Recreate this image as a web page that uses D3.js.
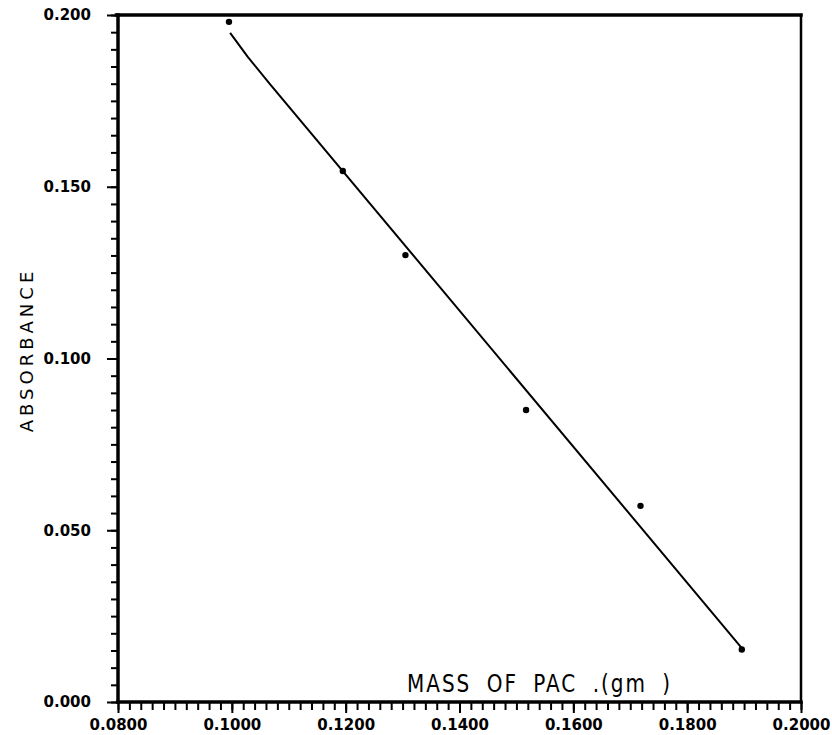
<!DOCTYPE html>
<html>
<head>
<meta charset="utf-8">
<script src="https://cdn.jsdelivr.net/npm/d3@7"></script>
<style>
  body { margin: 0; background: #fff; }
  svg text { fill: #000; }
</style>
</head>
<body>
<script>
// Global variable
const w = 832;
const h = 735;

// measured points (mass of PAC in gm, absorbance)
const mass = [0.0995, 0.1195, 0.1305, 0.1517, 0.1718, 0.1896];
const absorbance = [0.198, 0.1546, 0.1301, 0.0850, 0.0571, 0.0153];

// hand drawn fit line
const fitMass = [0.0997, 0.1028, 0.1067, 0.1896];
const fitAbs  = [0.1948, 0.1878, 0.1799, 0.0157];

// ticks
const xMajor = [0.08, 0.10, 0.12, 0.14, 0.16, 0.18, 0.20];
const yMajor = [0.000, 0.050, 0.100, 0.150, 0.200];
const xMinor = d3.range(0, 61).map(i => 0.08 + i * 0.002);
const yMinor = d3.range(0, 41).map(i => i * 0.005);

const xTitle = "MASS OF PAC .(gm )";
const yTitle = "ABSORBANCE";

//Create SVG element
let svg = d3.select("body")
            .append("svg")
                .attr("width", w)
                .attr("height", h);

let x = d3.scaleLinear()
        .domain([0.08, 0.20])
        .range([118, 801]);

let y = d3.scaleLinear()
        .domain([0, 0.20])
        .range([702, 15]);

// minor ticks
svg.append("g")
    .attr("class", "x minor")
    .attr("transform", "translate(0," + y(0) + ")")
    .call(d3.axisBottom(x).tickValues(xMinor).tickSize(8).tickFormat(""));

svg.append("g")
    .attr("class", "y minor")
    .attr("transform", "translate(" + x(0.08) + ",0)")
    .call(d3.axisLeft(y).tickValues(yMinor).tickSize(7).tickFormat(""));

// major ticks + labels
svg.append("g")
    .attr("class", "x major")
    .attr("transform", "translate(0," + y(0) + ")")
    .call(d3.axisBottom(x).tickValues(xMajor).tickSize(11).tickPadding(6).tickFormat(d3.format(".4f")));

svg.append("g")
    .attr("class", "y major")
    .attr("transform", "translate(" + x(0.08) + ",0)")
    .call(d3.axisLeft(y).tickValues(yMajor).tickSize(11).tickPadding(16).tickFormat(d3.format(".3f")));

svg.selectAll(".domain").remove();
svg.selectAll(".tick line").attr("stroke", "#000").attr("stroke-width", 2);
svg.selectAll(".major text")
    .attr("font-family", "DejaVu Sans")
    .attr("font-weight", "bold")
    .attr("font-size", 15)
    .attr("fill", "#000");

// frame
let frame = [
    [x(0.08), y(0), x(0.08), y(0.2), 3.5],
    [x(0.08), y(0), x(0.2), y(0), 3.5],
    [x(0.08) - 1.5, y(0.2), x(0.2), y(0.2), 3.5],
    [x(0.2), y(0.2), x(0.2), y(0), 2.5]
];
svg.selectAll("line.frame")
    .data(frame)
    .enter()
    .append("line")
        .attr("class", "frame")
        .attr("x1", d => d[0]).attr("y1", d => d[1])
        .attr("x2", d => d[2]).attr("y2", d => d[3])
        .attr("stroke", "#000")
        .attr("stroke-width", d => d[4])
        .attr("stroke-linecap", "square");

// fit line
let fit = fitMass.map((m, i) => [m, fitAbs[i]]);
svg.append("path")
    .datum(fit)
    .attr("fill", "none")
    .attr("stroke", "#000")
    .attr("stroke-width", 2)
    .attr("stroke-linejoin", "round")
    .attr("d", d3.line().x(d => x(d[0])).y(d => y(d[1])));

// points
svg.selectAll("circle")
    .data(mass)
    .enter()
    .append("circle")
        .attr("cx", d => x(d))
        .attr("cy", (d, i) => y(absorbance[i]))
        .attr("r", 3.2)
        .attr("fill", "#000");

// axis titles
svg.append("text")
    .attr("transform", "translate(407,692) scale(1,1.25)")
    .attr("font-family", "DejaVu Sans")
    .attr("font-size", 20)
    .attr("letter-spacing", 2)
    .attr("word-spacing", 7)
    .text(xTitle);

svg.append("text")
    .attr("transform", "translate(33,350) rotate(-90)")
    .attr("text-anchor", "middle")
    .attr("font-family", "DejaVu Sans")
    .attr("font-size", 18)
    .attr("letter-spacing", 4)
    .text(yTitle);
</script>
</body>
</html>
